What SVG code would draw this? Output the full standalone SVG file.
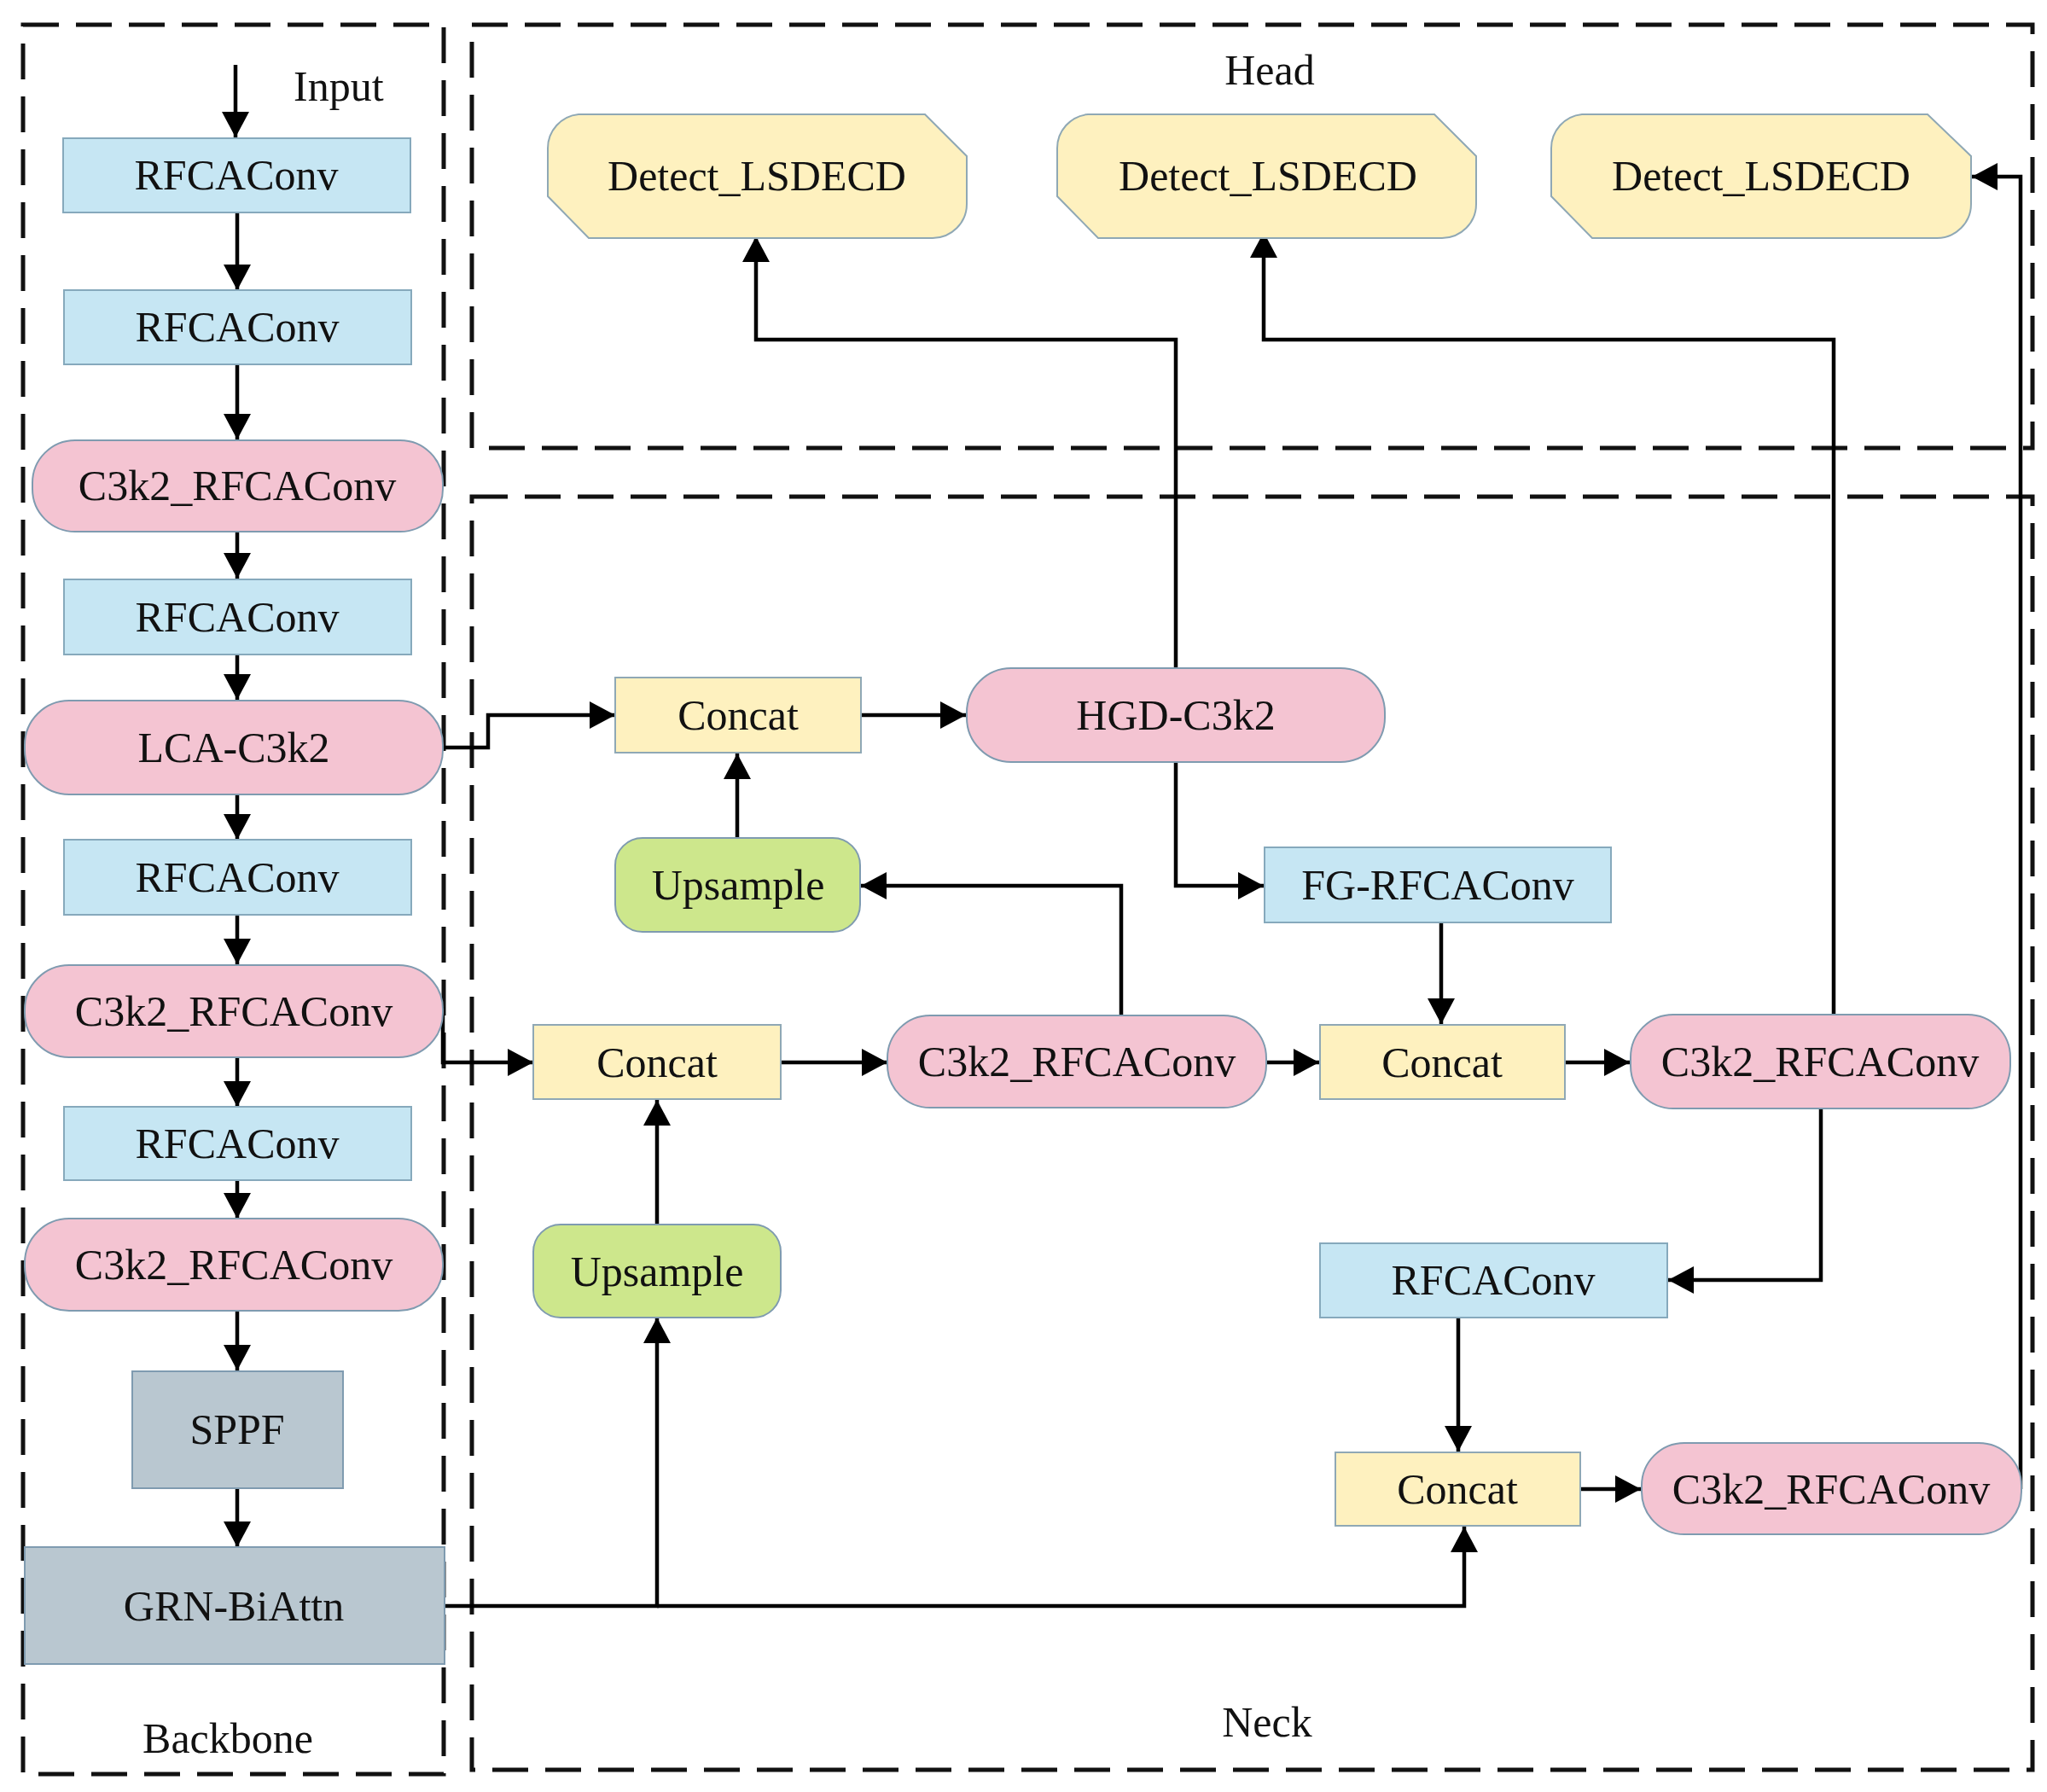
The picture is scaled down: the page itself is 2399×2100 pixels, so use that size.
<svg xmlns="http://www.w3.org/2000/svg" width="2399" height="2100" viewBox="0 0 2399 2100">
<style>
.frame{fill:none;stroke:#111;stroke-width:5;stroke-dasharray:42 20}
.blue{fill:#C6E6F3;stroke:#86A9BC;stroke-width:2}
.pink{fill:#F4C4D2;stroke:#7F9BB0;stroke-width:2}
.yel{fill:#FEF1BF;stroke:#8FA8B5;stroke-width:2}
.grn{fill:#CDE78C;stroke:#7F9BB0;stroke-width:2}
.gray{fill:#B9C7D0;stroke:#7F9BB0;stroke-width:2}
text{font-family:"Liberation Serif","Times New Roman",serif;font-size:50px;fill:#111;text-anchor:middle}
.conn path{fill:none;stroke:#000;stroke-width:4.5;marker-end:url(#ah)}
.conn path.plain{marker-end:none}
</style>
<defs>
<marker id="ah" markerUnits="userSpaceOnUse" markerWidth="32" markerHeight="32" refX="30" refY="16" orient="auto">
<path d="M0,0 L30,16 L0,32 Z" fill="#000"/>
</marker>
</defs>
<rect width="2399" height="2100" fill="#fff"/>

<g id="frames">
<rect class="frame" x="27" y="29" width="493" height="2050"/>
<rect class="frame" x="553" y="29" width="1829" height="496"/>
<rect class="frame" x="553" y="582" width="1829" height="1492"/>
<text x="344" y="118" text-anchor="start" style="text-anchor:start">Input</text>
<text x="267" y="2054">Backbone</text>
<text x="1488" y="99">Head</text>
<text x="1485" y="2035">Neck</text>
</g>

<g class="conn" id="connectors">
<path d="M276,76 V161"/>
<path d="M278,249 V340"/>
<path d="M278,427 V515"/>
<path d="M278,623 V678"/>
<path d="M278,767 V820"/>
<path d="M278,931 V984"/>
<path d="M278,1072 V1130"/>
<path d="M278,1239 V1297"/>
<path d="M278,1383 V1428"/>
<path d="M278,1536 V1606"/>
<path d="M278,1744 V1813"/>
<path d="M519,876 H572 V838 H721"/>
<path d="M519,1180 V1245 H625"/>
<path d="M521,1882 H770 V1544"/>
<path d="M770,1882 H1716 V1789"/>
<path d="M770,1435 V1289"/>
<path d="M915,1245 H1040"/>
<path d="M1314,1190 V1038 H1009"/>
<path d="M864,982 V883"/>
<path d="M1009,838 H1132"/>
<path d="M1378,893 V1038 H1481"/>
<path d="M1378,783 V398 H886 V277"/>
<path d="M1689,1081 V1200"/>
<path d="M1484,1245 H1546"/>
<path d="M1834,1245 H1910"/>
<path d="M2149,1189 V398 H1481 V272"/>
<path d="M2134,1299 V1500 H1955"/>
<path d="M1709,1544 V1701"/>
<path d="M1852,1745 H1923"/>
<path d="M2368,1745 V207 H2311"/>
</g>

<g id="bb_rfca1"><rect class="blue" x="74" y="162" width="407" height="87"/><text x="277" y="222">RFCAConv</text></g>
<g id="bb_rfca2"><rect class="blue" x="75" y="340" width="407" height="87"/><text x="278" y="400">RFCAConv</text></g>
<g id="bb_c3k2_1"><rect class="pink" x="38" y="516" width="481" height="107" rx="50" ry="50"/><text x="278" y="586">C3k2_RFCAConv</text></g>
<g id="bb_rfca3"><rect class="blue" x="75" y="679" width="407" height="88"/><text x="278" y="740">RFCAConv</text></g>
<g id="bb_lca"><rect class="pink" x="29" y="821" width="490" height="110" rx="52" ry="52"/><text x="274" y="893">LCA-C3k2</text></g>
<g id="bb_rfca4"><rect class="blue" x="75" y="984" width="407" height="88"/><text x="278" y="1045">RFCAConv</text></g>
<g id="bb_c3k2_2"><rect class="pink" x="29" y="1131" width="490" height="108" rx="52" ry="52"/><text x="274" y="1202">C3k2_RFCAConv</text></g>
<g id="bb_rfca5"><rect class="blue" x="75" y="1297" width="407" height="86"/><text x="278" y="1357">RFCAConv</text></g>
<g id="bb_c3k2_3"><rect class="pink" x="29" y="1428" width="490" height="108" rx="52" ry="52"/><text x="274" y="1499">C3k2_RFCAConv</text></g>
<g id="bb_sppf"><rect class="gray" x="155" y="1607" width="247" height="137"/><text x="278" y="1692">SPPF</text></g>
<g id="bb_grn"><rect class="gray" x="29" y="1813" width="492" height="137"/><text x="274" y="1899">GRN-BiAttn</text></g>

<g id="head_det1"><path class="yel" d="M678,134 H1084 L1133,183 V239 A40,40 0 0 1 1093,279 H690 L642,230 V174 A40,40 0 0 1 678,134 Z"/><text x="887" y="223">Detect_LSDECD</text></g>
<g id="head_det2"><path class="yel" d="M1275,134 H1681 L1730,183 V239 A40,40 0 0 1 1690,279 H1287 L1239,230 V174 A40,40 0 0 1 1275,134 Z"/><text x="1486" y="223">Detect_LSDECD</text></g>
<g id="head_det3"><path class="yel" d="M1854,134 H2259 L2310,183 V239 A40,40 0 0 1 2270,279 H1866 L1818,230 V174 A40,40 0 0 1 1854,134 Z"/><text x="2064" y="223">Detect_LSDECD</text></g>

<g id="nk_concat1"><rect class="yel" x="721" y="794" width="288" height="88"/><text x="865" y="855">Concat</text></g>
<g id="nk_hgd"><rect class="pink" x="1133" y="783" width="490" height="110" rx="52" ry="52"/><text x="1378" y="855">HGD-C3k2</text></g>
<g id="nk_upsample1"><rect class="grn" x="721" y="982" width="287" height="110" rx="32" ry="32"/><text x="865" y="1054">Upsample</text></g>
<g id="nk_fgrfca"><rect class="blue" x="1482" y="993" width="406" height="88"/><text x="1685" y="1054">FG-RFCAConv</text></g>
<g id="nk_concat2"><rect class="yel" x="625" y="1201" width="290" height="87"/><text x="770" y="1262">Concat</text></g>
<g id="nk_c3k2mid"><rect class="pink" x="1040" y="1190" width="444" height="108" rx="50" ry="50"/><text x="1262" y="1261">C3k2_RFCAConv</text></g>
<g id="nk_concat3"><rect class="yel" x="1547" y="1201" width="287" height="87"/><text x="1690" y="1262">Concat</text></g>
<g id="nk_c3k2_4"><rect class="pink" x="1911" y="1189" width="445" height="110" rx="50" ry="50"/><text x="2133" y="1261">C3k2_RFCAConv</text></g>
<g id="nk_upsample2"><rect class="grn" x="625" y="1435" width="290" height="109" rx="32" ry="32"/><text x="770" y="1507">Upsample</text></g>
<g id="nk_rfca"><rect class="blue" x="1547" y="1457" width="407" height="87"/><text x="1750" y="1517">RFCAConv</text></g>
<g id="nk_concat4"><rect class="yel" x="1565" y="1702" width="287" height="86"/><text x="1708" y="1762">Concat</text></g>
<g id="nk_c3k2_5"><rect class="pink" x="1924" y="1691" width="445" height="107" rx="50" ry="50"/><text x="2146" y="1762">C3k2_RFCAConv</text></g>
</svg>
